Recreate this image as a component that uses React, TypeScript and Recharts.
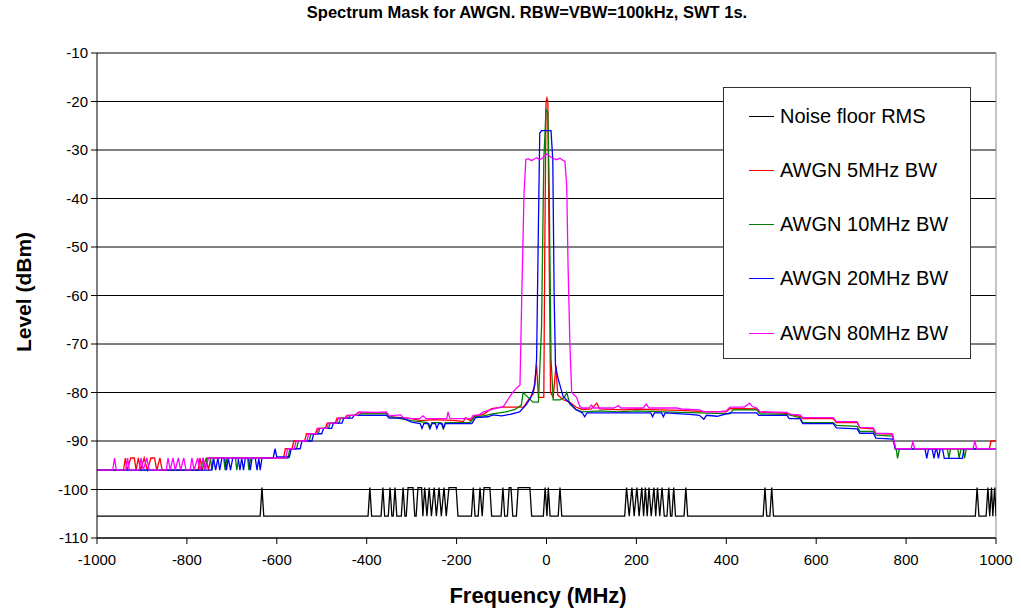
import React from 'react';
import { LineChart, Line, XAxis, YAxis, CartesianGrid, ReferenceLine, Label } from 'recharts';

type Pt = [number, number];

const B = -105.5;
const T = -99.6;

const xTicks = [-1000, -800, -600, -400, -200, 0, 200, 400, 600, 800, 1000];
const yTicks = [-110, -100, -90, -80, -70, -60, -50, -40, -30, -20, -10];

const noiseFloor: Pt[] = [
  [-1000, B], [-637, B], [-633, T], [-629, B],
  [-397, B], [-393, T], [-389, B],
  [-368, B], [-364, T], [-360, B],
  [-352, B], [-348, T], [-344, B],
  [-341, B], [-337, T], [-333, B],
  [-323, B], [-319, T], [-315, B],
  [-312, B], [-308, T], [-297, T], [-293, B],
  [-290, B], [-286, T], [-278, T], [-275, B], [-271, T], [-266, B], [-261, T], [-256, B], [-250, T], [-245, B],
  [-239, T], [-234, B], [-228, T], [-223, B], [-217, T], [-201, T], [-197, B],
  [-167, B], [-163, T], [-159, B],
  [-152, B], [-148, T], [-143, B], [-139, T], [-126, T], [-122, B],
  [-101, B], [-97, T], [-93, B],
  [-87, B], [-83, T], [-79, T], [-75, B],
  [-67, B], [-63, T], [-37, T], [-33, B],
  [-7, B], [-3, T], [1, B], [4, T], [8, B],
  [26, B], [30, T], [34, B],
  [174, B], [178, T], [184, B], [190, T], [195, B], [201, T], [206, B], [212, T], [216, B], [220, T], [224, B],
  [228, T], [233, B], [239, T], [243, B], [247, T], [252, B], [257, T], [262, B], [268, B], [272, T], [276, B],
  [279, B], [283, T], [287, B],
  [306, B], [310, T], [314, B],
  [482, B], [486, T], [490, B], [497, B], [501, T], [505, B],
  [954, B], [958, T], [962, B], [978, B], [982, T], [986, B], [990, T], [993, B], [997, T], [1000, B],
];

const awgn5: Pt[] = [
  [-1000, -96], [-941, -96], [-937, -93.5], [-933, -96], [-925, -93.5], [-917, -93.5], [-913, -96], [-908, -93.5],
  [-903, -96], [-895, -93.5], [-888, -96], [-880, -93.5], [-872, -93.5], [-867, -96], [-860, -93.5], [-855, -96],
  [-775, -96], [-771, -93.5], [-766, -96], [-757, -93.5], [-752, -96], [-747, -93.5],
  [-585, -93.5], [-581, -91.6], [-566, -91.6], [-562, -90], [-538, -90], [-534, -88.5], [-514, -88.5], [-510, -87.4],
  [-492, -87.4], [-488, -86.3], [-470, -86.3], [-466, -85.3], [-448, -85.3], [-444, -84.7], [-425, -84.7], [-421, -84.2],
  [-356, -84.2], [-350, -85], [-300, -85.4], [-280, -85.8], [-250, -85.6], [-200, -85.8], [-185, -86], [-180, -85.2],
  [-170, -85.8], [-160, -84.8], [-140, -84.5], [-122, -83.3], [-100, -83], [-80, -83], [-51, -83], [-40, -81.5],
  [-29, -80.2], [-22, -74.4], [-18, -81], [-6, -81], [-4, -52.7], [-1, -20], [1, -19.3], [3, -20], [6, -52], [9, -80],
  [15, -81], [21, -74.4], [25, -80.5], [37, -81.5], [52, -82], [65, -83], [80, -83.5], [100, -83.4], [112, -82.2],
  [118, -83.4], [170, -83.6], [200, -83.4], [250, -83.6], [300, -83.7], [341, -83.9], [400, -84], [408, -83.3],
  [468, -83.4], [475, -84], [535, -84.3], [564, -84.9], [570, -85.4], [638, -85.4], [645, -86.2], [691, -86.2],
  [697, -87.3], [727, -87.5], [733, -88.5], [770, -88.6], [776, -91.6], [985, -91.6], [989, -90], [1000, -90],
];

const awgn10: Pt[] = [
  [-1000, -96], [-768, -96], [-764, -93.5], [-760, -96], [-755, -93.5], [-748, -93.5], [-744, -96], [-740, -93.5],
  [-718, -93.5], [-715, -96], [-711, -93.5], [-692, -93.5], [-689, -96], [-685, -93.5], [-665, -93.5], [-662, -96],
  [-658, -93.5], [-575, -93.5], [-571, -91.6], [-556, -91.6], [-552, -90], [-528, -90], [-524, -88.5], [-508, -88.5],
  [-504, -87.4], [-485, -87.4], [-481, -86.3], [-462, -86.3], [-458, -85.3], [-440, -85.3], [-436, -84.7], [-417, -84.7],
  [-413, -84.4], [-356, -84.4], [-350, -85], [-300, -85.8], [-281, -86], [-265, -86.2], [-260, -87.4], [-255, -86.2],
  [-235, -86.2], [-230, -87.4], [-225, -86.2], [-170, -86.2], [-160, -85], [-140, -84.8], [-120, -84.4], [-90, -84],
  [-70, -83.5], [-56, -82.6], [-52, -80], [-41, -81], [-30, -82], [-18, -82], [-11, -66.4], [-6, -32], [-1, -21.7],
  [3, -22.3], [6, -38], [10, -73], [15, -81.5], [30, -81.5], [40, -81], [45, -80], [52, -82.4], [65, -83.5], [80, -84],
  [120, -83.8], [160, -84], [200, -83.8], [260, -84], [341, -84.2], [408, -84.4], [415, -83.6], [468, -83.6], [475, -84.4],
  [535, -84.5], [564, -85.2], [570, -86.2], [638, -86.2], [645, -86.8], [691, -87], [697, -88], [727, -88], [733, -88.8],
  [770, -89], [776, -91.6], [778, -91.6], [781, -93.6], [785, -91.6], [892, -91.6], [895, -93.6], [899, -91.6],
  [915, -91.6], [918, -93.6], [922, -91.6], [927, -91.6], [930, -93.6], [934, -91.6], [1000, -91.6],
];

const awgn20: Pt[] = [
  [-1000, -96], [-745, -96], [-741, -93.5], [-736, -96], [-731, -93.5], [-727, -96], [-722, -93.5], [-716, -93.5],
  [-712, -96], [-708, -93.5], [-703, -96], [-698, -93.5], [-686, -93.5], [-682, -96], [-678, -93.5], [-674, -96],
  [-670, -93.5], [-663, -93.5], [-659, -96], [-655, -93.5], [-648, -93.5], [-644, -96], [-640, -93.5], [-637, -96],
  [-633, -93.5], [-608, -93.5], [-604, -91.6], [-600, -93.3], [-572, -93.3], [-568, -91.6], [-548, -91.6], [-544, -90],
  [-522, -90], [-518, -88.5], [-500, -88.5], [-496, -87.4], [-478, -87.4], [-474, -86.3], [-455, -86.3], [-451, -85.3],
  [-432, -85.3], [-428, -84.7], [-356, -84.7], [-350, -85.3], [-320, -85.3], [-300, -86.1], [-281, -86.4], [-277, -87.4],
  [-273, -86.4], [-262, -86.4], [-259, -87.4], [-255, -86.4], [-247, -86.4], [-244, -87.4], [-240, -86.4], [-232, -86.4],
  [-229, -87.4], [-225, -86.4], [-166, -86.4], [-158, -85.2], [-130, -85], [-119, -84.6], [-100, -84.8], [-81, -84.5],
  [-60, -84], [-45, -82.5], [-35, -81], [-26, -78.5], [-22, -73], [-18, -45.8], [-15, -26.5], [-11, -26], [10, -26],
  [14, -32], [17, -60], [20, -74.5], [26, -77.2], [37, -80.8], [52, -82.2], [65, -83.5], [80, -84.2], [85, -85],
  [90, -84.2], [232, -84.2], [236, -85], [240, -84.2], [256, -84.2], [260, -85], [264, -84.2], [319, -84.5], [340, -84.7],
  [350, -85.5], [356, -84.7], [380, -84.9], [408, -84.2], [468, -84.2], [472, -84.7], [535, -84.7], [540, -85.4],
  [564, -85.4], [570, -86.4], [638, -86.4], [645, -87.3], [691, -87.5], [697, -88.4], [727, -88.4], [733, -89.4],
  [771, -89.6], [776, -91.6], [842, -91.6], [846, -93.6], [850, -91.6], [858, -91.6], [862, -93.6], [866, -91.6],
  [868, -91.6], [872, -93.6], [876, -91.6], [881, -91.6], [885, -93.6], [925, -93.6], [929, -91.6], [1000, -91.6],
];

const awgn80: Pt[] = [
  [-1000, -96], [-965, -96], [-961, -93.5], [-957, -96], [-936, -96], [-932, -93.5], [-928, -96], [-906, -96],
  [-902, -93.5], [-897, -96], [-889, -93.5], [-884, -96], [-846, -96], [-842, -93.5], [-837, -96], [-831, -93.5],
  [-826, -96], [-819, -93.5], [-814, -96], [-807, -93.5], [-802, -96], [-793, -96], [-789, -93.5], [-784, -96],
  [-776, -93.5], [-771, -96], [-764, -93.5], [-759, -96], [-752, -93.5],
  [-580, -93.5], [-576, -91.6], [-561, -91.6], [-557, -90], [-533, -90], [-529, -88.5], [-511, -88.5], [-507, -87.4],
  [-489, -87.4], [-485, -86.3], [-467, -86.3], [-463, -85.3], [-445, -85.3], [-441, -84.7], [-422, -84.7], [-418, -84],
  [-380, -84.1], [-356, -84], [-350, -84.8], [-325, -84.6], [-318, -85.2], [-300, -85.4], [-282, -85.4], [-275, -84.8],
  [-268, -85.4], [-222, -85.4], [-219, -84], [-215, -85.4], [-168, -85.4], [-163, -84.7], [-150, -84.6], [-140, -84],
  [-117, -83.4], [-96, -82.9], [-77, -80.2], [-66, -79], [-59, -78.5], [-55, -60], [-50, -39], [-46, -32], [-41, -31.8],
  [-33, -32.2], [-28, -31.9], [-22, -31.6], [-15, -32], [-8, -31.6], [0, -30.8], [6, -31.2], [12, -31.6], [22, -32],
  [30, -31.7], [38, -32.2], [41, -32.3], [45, -37.5], [48, -54], [52, -70], [56, -80], [67, -81], [74, -82.8], [79, -83.2],
  [95, -83.2], [100, -82.6], [105, -83.2], [150, -83.2], [160, -82.7], [165, -83.2], [215, -83.2], [222, -82.4],
  [228, -83.2], [290, -83.2], [300, -83.4], [341, -83.6], [350, -84], [380, -84], [400, -83.8], [408, -83], [440, -83],
  [452, -82.2], [458, -82.9], [468, -83.2], [475, -84], [535, -84.1], [540, -84.5], [564, -84.6], [570, -85.2],
  [638, -85.2], [645, -86], [691, -86], [697, -87.2], [727, -87.3], [733, -88.4], [768, -88.5], [773, -90], [777, -91.6],
  [811, -91.6], [815, -90.2], [819, -91.6], [949, -91.6], [953, -90], [957, -91.6], [1000, -91.6],
];

const seriesNames = ['Noise floor RMS', 'AWGN 5MHz BW', 'AWGN 10MHz BW', 'AWGN 20MHz BW', 'AWGN 80MHz BW'];
const seriesColors = ['#000000', '#ff0000', '#008000', '#0000ff', '#ff00ff'];
const seriesData = [noiseFloor, awgn5, awgn10, awgn20, awgn80];

const font = '"Liberation Sans", Arial, sans-serif';

const YTitle = () => (
  <text x={23} y={292} transform="rotate(-90, 23, 292)" textAnchor="middle" dominantBaseline="central"
    style={{ fontFamily: font, fontWeight: 'bold', fontSize: 21, fill: '#000' }}>
    Level (dBm)
  </text>
);

const XTitle = () => (
  <text x={538} y={603} textAnchor="middle"
    style={{ fontFamily: font, fontWeight: 'bold', fontSize: 22, fill: '#000' }}>
    Frequency (MHz)
  </text>
);

export default function App() {
  const lines = seriesData.map((pts) => pts.map(([f, v]) => ({ f, v })));
  return (
    <div style={{ position: 'absolute', left: 0, top: 0, width: 1021, height: 615, background: '#fff', fontFamily: font }}>
      <div style={{ position: 'absolute', top: 3, left: 527, transform: 'translateX(-50%)', whiteSpace: 'nowrap',
        fontWeight: 'bold', fontSize: 16.5, color: '#000' }}>
        Spectrum Mask for AWGN. RBW=VBW=100kHz, SWT 1s.
      </div>
      <LineChart width={1021} height={615} margin={{ top: 53, right: 25, bottom: 0, left: 0 }}>
        <CartesianGrid vertical={false} stroke="#000" strokeWidth={1} />
        <XAxis type="number" dataKey="f" domain={[-1000, 1000]} ticks={xTicks} allowDataOverflow height={77}
          stroke="#000" tickSize={6} tickMargin={10} interval={0}
          tick={{ fill: '#000', fontSize: 15, fontFamily: font }}>
          <Label content={<XTitle />} />
        </XAxis>
        <YAxis type="number" domain={[-110, -10]} ticks={yTicks} width={97} stroke="#000" tickSize={6} tickMargin={3}
          interval={0} tick={{ fill: '#000', fontSize: 15, fontFamily: font }}>
          <Label content={<YTitle />} />
        </YAxis>
        <ReferenceLine x={1000} stroke="#888" strokeWidth={1} />
        {lines.map((d, i) => (
          <Line key={seriesNames[i]} data={d} dataKey="v" name={seriesNames[i]} type="linear" stroke={seriesColors[i]}
            strokeWidth={1.3} dot={false} activeDot={false} isAnimationActive={false} />
        ))}
      </LineChart>
      <div style={{ position: 'absolute', left: 723, top: 87, width: 246, height: 270, border: '1px solid #333',
        background: '#fff', boxSizing: 'content-box' }}>
        {seriesNames.map((n, i) => (
          <div key={n} style={{ position: 'absolute', left: 25, top: 28 + i * 54.3 - 12, height: 24,
            display: 'flex', alignItems: 'center' }}>
            <span style={{ display: 'inline-block', width: 25, height: 0, borderTop: `1.5px solid ${seriesColors[i]}`,
              marginRight: 6 }} />
            <span style={{ fontSize: 20, color: '#000', whiteSpace: 'nowrap' }}>{n}</span>
          </div>
        ))}
      </div>
    </div>
  );
}
